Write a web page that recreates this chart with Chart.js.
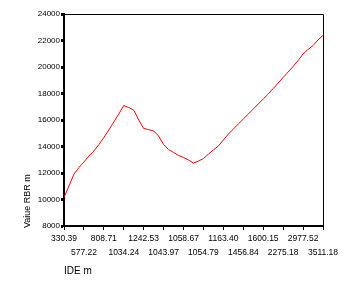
<!DOCTYPE html>
<html>
<head>
<meta charset="utf-8">
<script src="https://cdn.jsdelivr.net/npm/chart.js@4/dist/chart.umd.min.js"></script>
<style>
  html, body { margin: 0; padding: 0; background: #fff; }
  #wrap { width: 356px; height: 291px; position: relative; }
</style>
</head>
<body>
<div id="wrap"><canvas id="chart"></canvas></div>
<script>
// Labels shown on the x axis (every 4th case)
const xLabels = ['330.39', '577.22', '808.71', '1034.24', '1242.53', '1043.97', '1058.67',
                 '1054.79', '1163.40', '1456.84', '1600.15', '2275.18', '2977.52', '3511.18'];
const labelStep = 4;

// Value RBR m, one value per case
const rbrValues = [
  10150, 11020, 11920, 12415, 12830, 13280, 13660, 14150, 14680, 15245,
  15850, 16450, 17095, 16940, 16750, 16000, 15360, 15280, 15170, 14790,
  14150, 13770, 13550, 13320, 13170, 12980, 12750, 12900, 13090, 13430,
  13740, 14040, 14490, 14940, 15320, 15700, 16075, 16450, 16830, 17210,
  17585, 17960, 18380, 18790, 19210, 19620, 20040, 20490, 20980, 21320,
  21620, 22040, 22380
];

const yTicks = [8000, 10000, 12000, 14000, 16000, 18000, 20000, 22000, 24000];

const xTitle = 'IDE m';
const yTitle = 'Vaiue RBR m';

// Rahmen oben/rechts und Achsentitel selbst zeichnen
const frameAndTitles = {
  id: 'frameAndTitles',
  afterDraw(chart) {
    const ctx = chart.ctx;
    const a = chart.chartArea;
    ctx.save();
    ctx.strokeStyle = '#000';
    ctx.lineWidth = 1;
    ctx.beginPath();
    ctx.moveTo(a.left, a.top + 0.5);
    ctx.lineTo(a.right + 0.5, a.top + 0.5);
    ctx.lineTo(a.right + 0.5, a.bottom);
    ctx.stroke();

    ctx.fillStyle = '#000';
    ctx.font = '10px "Liberation Sans", Arial, sans-serif';
    ctx.textAlign = 'left';
    ctx.textBaseline = 'middle';
    ctx.fillText(xTitle, a.left, 271.5);

    ctx.translate(28, a.bottom + 2);
    ctx.rotate(-Math.PI / 2);
    ctx.font = '9px "Liberation Sans", Arial, sans-serif';
    ctx.fillText(yTitle, 0, 0);
    ctx.restore();
  }
};

const points = rbrValues.map((v, i) => ({ x: i, y: v }));

new Chart(document.getElementById('chart'), {
  type: 'line',
  data: {
    datasets: [{
      data: points,
      borderColor: '#ff0000',
      borderWidth: 1,
      pointRadius: 0,
      tension: 0,
      fill: false
    }]
  },
  options: {
    responsive: true,
    maintainAspectRatio: false,
    animation: false,
    layout: { padding: { left: 0, top: 14, right: 33, bottom: 0 } },
    plugins: {
      legend: { display: false },
      tooltip: { enabled: false }
    },
    scales: {
      x: {
        type: 'linear',
        min: 0,
        max: rbrValues.length - 1,
        afterFit: function(scale) { scale.height = 65; },
        border: { display: true, color: '#000', width: 2 },
        grid: { drawOnChartArea: false, drawTicks: true, tickLength: 4, tickColor: '#000', tickWidth: 1 },
        ticks: {
          stepSize: labelStep,
          autoSkip: false,
          maxRotation: 0,
          minRotation: 0,
          padding: 2,
          color: '#000',
          font: { family: '"Liberation Sans", Arial, sans-serif', size: 8.5, lineHeight: 1.6 },
          callback: function(value) {
            const k = Math.round(value / labelStep);
            if (value % labelStep !== 0 || k >= xLabels.length) return '';
            return k % 2 === 0 ? [xLabels[k]] : ['', xLabels[k]];
          }
        }
      },
      y: {
        min: 8000,
        max: 24000,
        afterFit: function(scale) { scale.width = 64; },
        afterBuildTicks: function(scale) { scale.ticks = yTicks.map(v => ({ value: v })); },
        border: { display: true, color: '#000', width: 2 },
        grid: { drawOnChartArea: false, drawTicks: true, tickLength: 3, tickColor: '#000', tickWidth: 3 },
        ticks: {
          padding: 1,
          color: '#000',
          font: { family: '"Liberation Sans", Arial, sans-serif', size: 8 },
          callback: function(value) { return String(value); }
        }
      }
    }
  },
  plugins: [frameAndTitles]
});
</script>
</body>
</html>
